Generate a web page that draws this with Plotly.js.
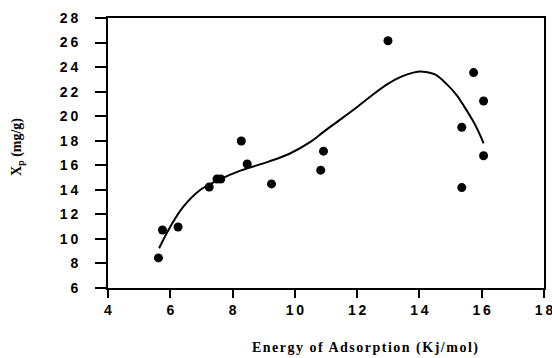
<!DOCTYPE html>
<html>
<head>
<meta charset="utf-8">
<script src="https://cdn.plot.ly/plotly-3.0.1.min.js"></script>
<style>
html,body{margin:0;padding:0;background:#fff;}
#chart{width:552px;height:358px;}
</style>
</head>
<body>
<div id="chart"></div>
<script>
// Observed data points
const energyX = [5.62, 5.75, 6.25, 7.25, 7.5, 7.62, 8.28, 8.47, 9.25, 10.83, 10.92, 12.99, 15.74, 16.06, 15.36, 16.06, 15.36];
const xpY     = [8.45, 10.73, 10.97, 14.23, 14.88, 14.88, 17.98, 16.1, 14.48, 15.6, 17.15, 26.15, 23.55, 21.24, 19.1, 16.78, 14.18];

// Fitted curve
const curveX = [5.64, 6.0, 6.42, 6.96, 7.5, 8.25, 9.16, 9.86, 10.5, 10.93, 11.5, 12.0, 12.5, 13.0, 13.4, 13.8, 14.1, 14.5, 14.9, 15.2, 15.44, 15.7, 15.87, 16.06];
const curveY = [9.24, 11.0, 12.63, 13.99, 14.74, 15.56, 16.3, 16.98, 17.9, 18.74, 19.8, 20.75, 21.75, 22.65, 23.2, 23.55, 23.63, 23.4, 22.55, 21.7, 20.78, 19.7, 18.88, 17.79];

// Tick labels (thin spaces between digits as in the reference)
const T = '\u2009';
const xTickVals = [4, 6, 8, 10, 12, 14, 16, 18];
const xTickText = ["4", "6", "8", "1"+T+"0", "1"+T+"2", "1"+T+"4", "1"+T+"6", "1"+T+"8"];
const yTickVals = [6, 8, 10, 12, 14, 16, 18, 20, 22, 24, 26, 28];
const yTickText = ["6", "8", "1"+T+"0", "1"+T+"2", "1"+T+"4", "1"+T+"6", "1"+T+"8", "2"+T+"0", "2"+T+"2", "2"+T+"4", "2"+T+"6", "2"+T+"8"];

const traces = [
  {
    x: curveX, y: curveY, type: 'scatter', mode: 'lines',
    line: {color: '#000', width: 2, shape: 'spline', smoothing: 1},
    hoverinfo: 'skip', showlegend: false
  },
  {
    x: energyX, y: xpY, type: 'scatter', mode: 'markers',
    marker: {color: '#000', size: 9, symbol: 'circle'},
    showlegend: false
  }
];

const tickFont = {family: 'Liberation Sans, Arial, sans-serif', size: 14, color: '#000', weight: 'bold'};

const layout = {
  width: 552, height: 358,
  margin: {l: 108, r: 8, t: 18, b: 70},
  paper_bgcolor: '#fff', plot_bgcolor: '#fff',
  showlegend: false,
  xaxis: {
    range: [4, 18], tickvals: xTickVals, ticktext: xTickText,
    ticks: 'outside', ticklen: 8, tickwidth: 2, tickcolor: '#000',
    showline: true, linecolor: '#000', linewidth: 2, mirror: true,
    showgrid: false, zeroline: false, tickfont: tickFont,
    ticklabelshift: -2.5, ticklabeloverflow: 'allow'
  },
  yaxis: {
    range: [6, 28], tickvals: yTickVals, ticktext: yTickText,
    ticks: 'outside', ticklen: 11, tickwidth: 2, tickcolor: '#000',
    showline: true, linecolor: '#000', linewidth: 2, mirror: true,
    showgrid: false, zeroline: false, tickfont: tickFont,
    ticklabelstandoff: 14, ticklabeloverflow: 'allow'
  },
  annotations: [
    {
      text: '<span style="letter-spacing:1.5px">Energy of Adsorption (Kj/mol)</span>',
      xref: 'paper', yref: 'paper', x: 0.59, y: -0.222,
      xanchor: 'center', yanchor: 'middle', showarrow: false,
      font: {family: 'Liberation Serif, Times New Roman, serif', size: 14, color: '#000', weight: 'bold'}
    },
    {
      text: 'X<sub>p</sub> (mg/g)',
      xref: 'paper', yref: 'paper', x: -0.209, y: 0.522,
      xanchor: 'center', yanchor: 'middle', textangle: -90, showarrow: false,
      font: {family: 'Liberation Serif, Times New Roman, serif', size: 14, color: '#000', weight: 'bold'}
    }
  ]
};

Plotly.newPlot('chart', traces, layout, {displayModeBar: false, staticPlot: true});
</script>
</body>
</html>
